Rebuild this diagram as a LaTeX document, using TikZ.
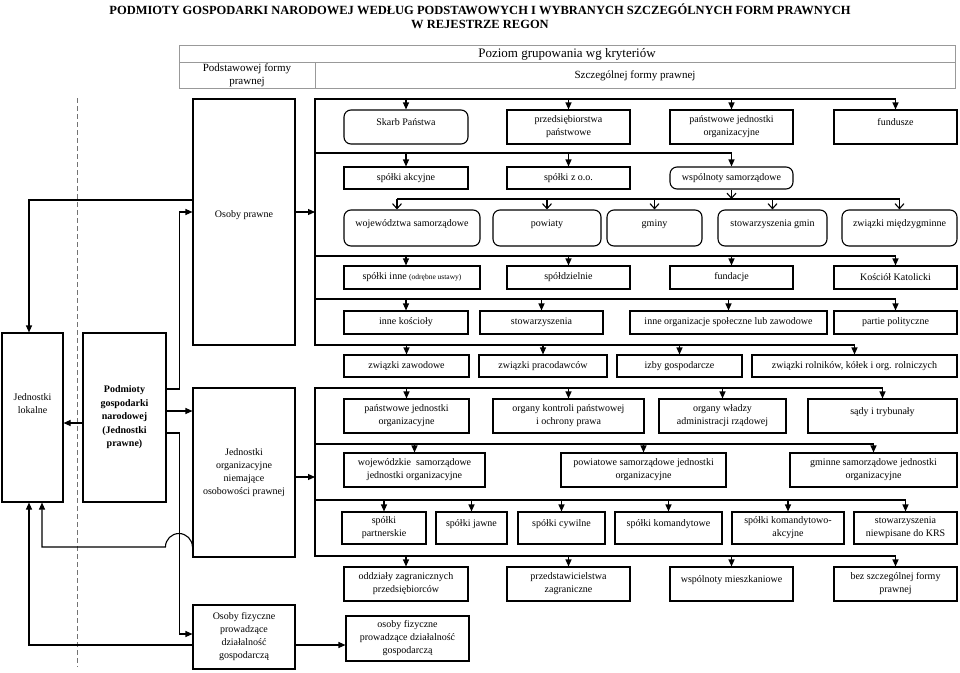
\documentclass[tikz,border=0pt]{standalone}
\usepackage{fontspec}
\setmainfont{Liberation Serif}
\usetikzlibrary{arrows.meta}

\begin{document}
\begin{tikzpicture}[x=1pt, y=-1pt, line width=1.1pt,
  box/.style={draw, align=center, inner sep=1pt, font=\fontsize{10}{13}\selectfont},
  rbox/.style={box, rounded corners=7pt},
  toptext/.style={text depth=10pt},
  arr/.style={-{Triangle[length=7pt, width=6pt]}},
  oarr/.style={-{Straight Barb[length=5pt, width=9pt]}},
  hdr/.style={draw=black!40, line width=0.8pt}]
  \useasboundingbox (0,0) rectangle (960,672);
  \node[font=\fontsize{12.5}{14.5}\selectfont\bfseries, align=center] (tytul) at (480,16) {PODMIOTY GOSPODARKI NARODOWEJ WEDŁUG PODSTAWOWYCH I WYBRANYCH SZCZEGÓLNYCH FORM PRAWNYCH\\W REJESTRZE REGON};
  \draw[hdr] (179,45) rectangle (955,88);
  \draw[hdr] (179,62) -- (955,62); \draw[hdr] (315,62) -- (315,88);
  \node[font=\fontsize{13}{15}\selectfont] (poziom) at (567,54) {Poziom grupowania wg kryteriów};
  \node[font=\fontsize{11}{13}\selectfont, align=center] (podst) at (247,75.5) {Podstawowej formy\\prawnej};
  \node[font=\fontsize{11}{13}\selectfont] (szczeg) at (635,75.5) {Szczególnej formy prawnej};
  \draw[black!55, line width=0.9pt, dash pattern=on 5pt off 3pt] (77,98) -- (77,667);

  \node[box, minimum width=61pt, minimum height=169pt, text depth=28pt] (lok) at (32.5,417.5) {Jednostki\\lokalne};
  \node[box, font=\fontsize{10}{13.5}\selectfont\bfseries, minimum width=83pt, minimum height=169pt] (pgn) at (124.5,417.5) {Podmioty\\gospodarki\\narodowej\\(Jednostki\\prawne)};
  \node[box, minimum width=102pt, minimum height=246pt, text depth=16pt] (op) at (244,222) {Osoby prawne};
  \node[box, minimum width=102pt, minimum height=169pt] (jo) at (244,472.5) {Jednostki\\organizacyjne\\niemające\\osobowości prawnej};
  \node[box, minimum width=102pt, minimum height=64pt] (of) at (244,637) {Osoby fizyczne\\prowadzące\\działalność\\gospodarczą};

  \node[rbox, toptext, minimum width=124pt, minimum height=34pt] (skarb) at (406,127) {Skarb Państwa};
  \node[box, minimum width=123pt, minimum height=34pt] (przed) at (568.5,127) {przedsiębiorstwa\\państwowe};
  \node[box, minimum width=123pt, minimum height=34pt] (pjo) at (731.5,127) {państwowe jednostki\\organizacyjne};
  \node[box, toptext, minimum width=123pt, minimum height=34pt] (fund) at (895.5,127) {fundusze};
  \node[box, minimum width=124pt, minimum height=22pt] (sa) at (406,178) {spółki akcyjne};
  \node[box, minimum width=123pt, minimum height=22pt] (szoo) at (568.5,178) {spółki z o.o.};
  \node[rbox, minimum width=123pt, minimum height=22pt] (wsp) at (731.5,178) {wspólnoty samorządowe};
  \node[rbox, toptext, minimum width=136pt, minimum height=36pt] (woj) at (412,228) {województwa samorządowe};
  \node[rbox, toptext, minimum width=108pt, minimum height=36pt] (pow) at (547,228) {powiaty};
  \node[rbox, toptext, minimum width=95pt, minimum height=36pt] (gmi) at (654.5,228) {gminy};
  \node[rbox, toptext, minimum width=109pt, minimum height=36pt] (sgm) at (772.5,228) {stowarzyszenia gmin};
  \node[rbox, toptext, minimum width=115pt, minimum height=36pt] (zmg) at (899.5,228) {związki międzygminne};
  \node[box, minimum width=136pt, minimum height=23pt] (sinne) at (412,277.5) {spółki inne {\fontsize{7.5}{9}\selectfont(odrębne ustawy)}};
  \node[box, minimum width=123pt, minimum height=23pt] (spdz) at (568.5,277.5) {spółdzielnie};
  \node[box, minimum width=123pt, minimum height=23pt] (fdc) at (731.5,277.5) {fundacje};
  \node[box, minimum width=123pt, minimum height=23pt] (kk) at (895.5,277.5) {Kościół Katolicki};
  \node[box, minimum width=124pt, minimum height=23pt] (ik) at (406,322.5) {inne kościoły};
  \node[box, minimum width=123pt, minimum height=23pt] (stow) at (541.5,322.5) {stowarzyszenia};
  \node[box, minimum width=197pt, minimum height=23pt] (ios) at (728.5,322.5) {inne organizacje społeczne lub zawodowe};
  \node[box, minimum width=123pt, minimum height=23pt] (pp) at (895.5,322.5) {partie polityczne};
  \node[box, minimum width=125pt, minimum height=22pt] (zz) at (406.5,366) {związki zawodowe};
  \node[box, minimum width=128pt, minimum height=22pt] (zp) at (543,366) {związki pracodawców};
  \node[box, minimum width=125pt, minimum height=22pt] (ig) at (679.5,366) {izby gospodarcze};
  \node[box, minimum width=205pt, minimum height=22pt] (zr) at (854.5,366) {związki rolników, kółek i org. rolniczych};

  \node[box, minimum width=125pt, minimum height=34pt] (pjo2) at (406.5,416) {państwowe jednostki\\organizacyjne};
  \node[box, minimum width=151pt, minimum height=34pt] (okp) at (568.5,416) {organy kontroli państwowej\\i ochrony prawa};
  \node[box, minimum width=127pt, minimum height=34pt] (owa) at (722.5,416) {organy władzy\\administracji rządowej};
  \node[box, toptext, minimum width=149pt, minimum height=34pt] (sit) at (882.5,416) {sądy i trybunały};
  \node[box, minimum width=141pt, minimum height=34pt] (wsj) at (414.5,470) {wojewódzkie~ samorządowe\\jednostki organizacyjne};
  \node[box, minimum width=165pt, minimum height=34pt] (psj) at (643.5,470) {powiatowe samorządowe jednostki\\organizacyjne};
  \node[box, minimum width=167pt, minimum height=34pt] (gsj) at (873.5,470) {gminne samorządowe jednostki\\organizacyjne};
  \node[box, minimum width=84pt, minimum height=32pt] (spart) at (384,528) {spółki\\partnerskie};
  \node[box, toptext, minimum width=71pt, minimum height=32pt] (sjaw) at (471.5,528) {spółki jawne};
  \node[box, toptext, minimum width=87pt, minimum height=32pt] (scyw) at (561.5,528) {spółki cywilne};
  \node[box, toptext, minimum width=107pt, minimum height=32pt] (skom) at (668.5,528) {spółki komandytowe};
  \node[box, minimum width=112pt, minimum height=32pt] (ska) at (788,528) {spółki komandytowo-\\akcyjne};
  \node[box, minimum width=103pt, minimum height=32pt] (snk) at (905.5,528) {stowarzyszenia\\niewpisane do KRS};
  \node[box, minimum width=124pt, minimum height=34pt] (ozp) at (406,584) {oddziały zagranicznych\\przedsiębiorców};
  \node[box, minimum width=123pt, minimum height=34pt] (pz) at (568.5,584) {przedstawicielstwa\\zagraniczne};
  \node[box, toptext, minimum width=123pt, minimum height=34pt] (wm) at (731.5,584) {wspólnoty mieszkaniowe};
  \node[box, minimum width=123pt, minimum height=34pt] (bsf) at (895.5,584) {bez szczególnej formy\\prawnej};
  \node[box, minimum width=123pt, minimum height=45pt] (ofpd) at (407.5,638.5) {osoby fizyczne\\prowadzące działalność\\gospodarczą};

  \coordinate (b1) at (315,99); \coordinate (b2) at (315,153); \coordinate (b3) at (315,199);
  \coordinate (b4) at (315,256); \coordinate (b5) at (315,299); \coordinate (b6) at (315,345);
  \coordinate (b7) at (315,388); \coordinate (b8) at (315,444); \coordinate (b9) at (315,500);
  \coordinate (b10) at (315,556);

  \draw[arr] ([yshift=28.5pt]pgn.east) -- ++(13,0) |- ([yshift=10pt]op.west);
  \draw[arr] ([yshift=6.5pt]pgn.east) -- ([yshift=6.5pt]pgn.east -| jo.west);
  \draw[arr] ([yshift=-15.5pt]pgn.east) -- ++(13,0) |- ([yshift=3pt]of.west);
  \draw[arr] ([yshift=-5.5pt]pgn.west) -- ([yshift=-5.5pt]pgn.west -| lok.east);
  \draw[arr] ([yshift=22pt]op.west) -| ([xshift=-3.5pt]lok.north);
  \draw[arr] ([yshift=-74.5pt]jo.west) arc[start angle=0, end angle=180, radius=13.5pt] -| ([xshift=9.5pt]lok.south);
  \draw[arr] ([yshift=-8pt]of.west) -| ([xshift=-3.5pt]lok.south);
  \draw[arr] ([yshift=10pt]op.east) -- ([yshift=10pt]op.east -| b1);
  \draw[arr] ([yshift=-4.5pt]jo.east) -- ([yshift=-4.5pt]jo.east -| b7);
  \draw[arr] ([yshift=-8pt]of.east) -- ([yshift=-8pt]of.east -| ofpd.west);

  \draw (fund.north |- b1) -- (b1) -- (b6) -- (zr.north |- b6);
  \draw (b2) -- (wsp.north |- b2); \draw (b4) -- (kk.north |- b4); \draw (b5) -- (pp.north |- b5);
  \draw (sit.north |- b7) -- (b7) -- (b10) -- (bsf.north |- b10);
  \draw (b8) -- (gsj.north |- b8); \draw (b9) -- (snk.north |- b9);
  \draw ([xshift=-15pt]woj.north |- b3) -- (zmg.north |- b3);

  \draw[arr] (skarb.north |- b1) -- (skarb.north); \draw[arr] (przed.north |- b1) -- (przed.north);
  \draw[arr] (pjo.north |- b1) -- (pjo.north); \draw[arr] (fund.north |- b1) -- (fund.north);
  \draw[arr] (sa.north |- b2) -- (sa.north); \draw[arr] (szoo.north |- b2) -- (szoo.north);
  \draw[arr] (wsp.north |- b2) -- (wsp.north);
  \draw[oarr] (wsp.south) -- (wsp.south |- b3);
  \draw[oarr] ([xshift=-15pt]woj.north |- b3) -- ([xshift=-15pt]woj.north); \draw[oarr] (pow.north |- b3) -- (pow.north);
  \draw[oarr] (gmi.north |- b3) -- (gmi.north); \draw[oarr] (sgm.north |- b3) -- (sgm.north);
  \draw[oarr] (zmg.north |- b3) -- (zmg.north);
  \draw[arr] (skarb.north |- b4) -- (skarb.north |- sinne.north); \draw[arr] (spdz.north |- b4) -- (spdz.north);
  \draw[arr] (fdc.north |- b4) -- (fdc.north); \draw[arr] (kk.north |- b4) -- (kk.north);
  \draw[arr] (ik.north |- b5) -- (ik.north); \draw[arr] (stow.north |- b5) -- (stow.north);
  \draw[arr] (ios.north |- b5) -- (ios.north); \draw[arr] (pp.north |- b5) -- (pp.north);
  \draw[arr] (zz.north |- b6) -- (zz.north); \draw[arr] (zp.north |- b6) -- (zp.north);
  \draw[arr] (ig.north |- b6) -- (ig.north); \draw[arr] (zr.north |- b6) -- (zr.north);
  \draw[arr] (pjo2.north |- b7) -- (pjo2.north); \draw[arr] (okp.north |- b7) -- (okp.north);
  \draw[arr] (owa.north |- b7) -- (owa.north); \draw[arr] (sit.north |- b7) -- (sit.north);
  \draw[arr] (wsj.north |- b8) -- (wsj.north); \draw[arr] (psj.north |- b8) -- (psj.north);
  \draw[arr] (gsj.north |- b8) -- (gsj.north);
  \draw[arr] (spart.north |- b9) -- (spart.north); \draw[arr] (sjaw.north |- b9) -- (sjaw.north);
  \draw[arr] (scyw.north |- b9) -- (scyw.north); \draw[arr] (skom.north |- b9) -- (skom.north);
  \draw[arr] (ska.north |- b9) -- (ska.north); \draw[arr] (snk.north |- b9) -- (snk.north);
  \draw[arr] (ozp.north |- b10) -- (ozp.north); \draw[arr] (pz.north |- b10) -- (pz.north);
  \draw[arr] (wm.north |- b10) -- (wm.north); \draw[arr] (bsf.north |- b10) -- (bsf.north);
\end{tikzpicture}
\end{document}
